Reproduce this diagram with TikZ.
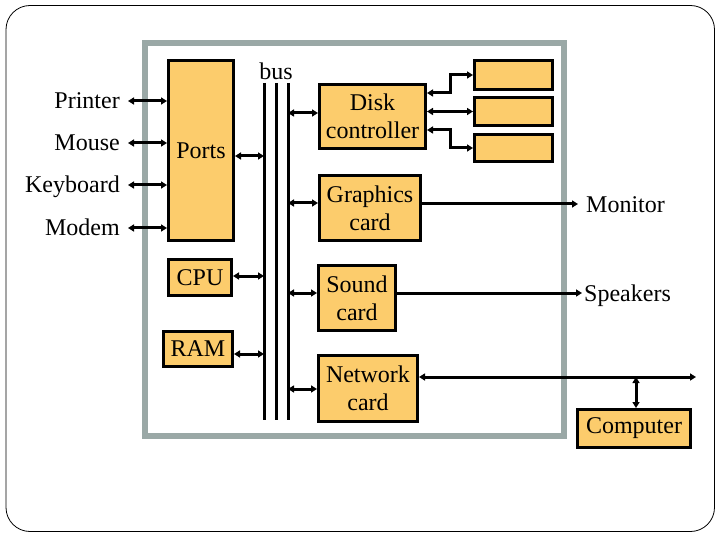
\documentclass[tikz,border=0pt]{standalone}
\usepackage{fontspec}
\setmainfont{Liberation Serif}
\usetikzlibrary{arrows.meta}
\definecolor{unitfill}{HTML}{FCCC6C}
\definecolor{casegray}{HTML}{9AA8A6}
\tikzstyle{unit}=[draw, line width=3pt, fill=unitfill, inner sep=0pt, align=center]
\tikzstyle{wire}=[line width=3pt, <->]
\tikzstyle{buswire}=[line width=3pt]
\tikzstyle{outside}=[inner xsep=8pt, inner ysep=0pt, text height=16pt, text depth=0pt]

\begin{document}
\begin{tikzpicture}[x=1pt, y=-1pt, >={Triangle[length=6pt, width=7pt]},
    font=\fontsize{24}{28}\selectfont]
  \useasboundingbox (0,0) rectangle (720,540);
  \draw[line width=0.8pt, rounded corners=24pt] (6,5.5) rectangle (714.5,531.5);
  \draw[line width=6pt, casegray] (145,43) rectangle (564,436);

  \node[unit, minimum width=65pt, minimum height=180pt] (ports) at (201,150.5) {Ports};
  \node[unit, minimum width=63pt, minimum height=36pt] (cpu) at (200,277.5) {CPU};
  \node[unit, minimum width=69pt, minimum height=35pt] (ram) at (198,349) {RAM};
  \node[unit, minimum width=106pt, minimum height=64pt] (disk) at (372.5,116.5) {Disk\\controller};
  \node[unit, minimum width=101pt, minimum height=65pt] (graphics) at (370,208) {Graphics\\card};
  \node[unit, minimum width=77pt, minimum height=65pt] (sound) at (357,298) {Sound\\card};
  \node[unit, minimum width=99pt, minimum height=66pt] (network) at (368,388.5) {Network\\card};
  \node[unit, minimum width=113pt, minimum height=38pt] (computer) at (634,428.5) {Computer};
  \node[unit, minimum width=78pt, minimum height=29pt] (drive1) at (513.5,75) {};
  \node[unit, minimum width=78pt, minimum height=28pt] (drive2) at (513.5,111.5) {};
  \node[unit, minimum width=78pt, minimum height=27pt] (drive3) at (513.5,148) {};

  \node[outside, anchor=east] (printer) at (128,101) {Printer};
  \node[outside, anchor=east] (mouse) at (128,143) {Mouse};
  \node[outside, anchor=east] (keyboard) at (128,185) {Keyboard};
  \node[outside, anchor=east] (modem) at (128,228) {Modem};
  \node[outside, anchor=west] (monitor) at (578,204) {Monitor};
  \node[outside, anchor=west, inner xsep=2pt] (speakers) at (582,293) {Speakers};
  \node[anchor=base, inner sep=0pt] (buslabel) at (276,80) {bus};

  \foreach \i/\x in {1/264, 2/276, 3/288} {
    \coordinate (bustop\i) at (\x,83);
    \coordinate (busbot\i) at (\x,420);
    \draw[buswire] (bustop\i) -- (busbot\i);
  }

  \foreach \dev in {printer, mouse, keyboard, modem}
    \draw[wire] (\dev.east) -- (\dev.east -| ports.west);

  \draw[wire] (ports.east |- 0,156) -- (bustop1 |- 0,156);
  \draw[wire] (cpu.east |- 0,276) -- (bustop1 |- 0,276);
  \draw[wire] (ram.east |- 0,354) -- (bustop1 |- 0,354);
  \draw[wire] (bustop3 |- 0,113) -- (disk.west |- 0,113);
  \draw[wire] (bustop3 |- 0,203) -- (graphics.west |- 0,203);
  \draw[wire] (bustop3 |- 0,293) -- (sound.west |- 0,293);
  \draw[wire] (bustop3 |- 0,389) -- (network.west |- 0,389);

  \draw[wire] (disk.east |- 0,93) -- ++(23,0) |- (drive1.west);
  \draw[wire] (disk.east |- drive2.west) -- (drive2.west);
  \draw[wire] (disk.east |- 0,130) -- ++(23,0) |- (drive3.west);

  \draw[wire, <-] (monitor.west) -- (graphics.east |- monitor.west);
  \draw[wire, <-] (speakers.west) -- (sound.east |- speakers.west);

  \coordinate (lanend) at (696,377);
  \coordinate (tap) at (636,377);
  \draw[wire] (network.east |- lanend) -- (lanend);
  \draw[wire] (tap) -- (tap |- computer.north);
\end{tikzpicture}
\end{document}
